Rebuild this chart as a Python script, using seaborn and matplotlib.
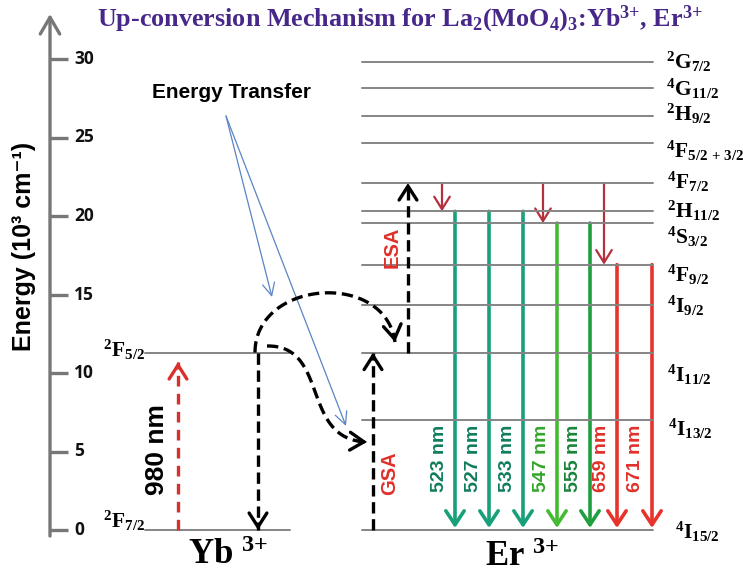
import numpy as np
import pandas as pd
import matplotlib
matplotlib.use("Agg")
import matplotlib.pyplot as plt
import seaborn as sns
from matplotlib.patches import FancyArrowPatch

# ---------------- data ----------------
title_text = r"Up-conversion Mechanism for La$_2$(MoO$_4$)$_3$:Yb$^{3{+}}$, Er$^{3{+}}$"
yticks = [0, 5, 10, 15, 20, 25, 30]

yb_levels = ["2F7/2", "2F5/2"]
yb_energy = [0.0, 11.3]
yb_tex = [r"$^{2}$F$_{7/2}$", r"$^{2}$F$_{5/2}$"]

er_levels = ["4I15/2", "4I13/2", "4I11/2", "4I9/2", "4F9/2", "4S3/2",
             "2H11/2", "4F7/2", "4F5/2+3/2", "2H9/2", "4G11/2", "2G7/2"]
er_energy = [0.0, 7.0, 11.3, 14.3, 16.9, 19.55, 20.3, 22.1, 24.65, 26.4, 28.15, 29.8]
er_tex = [r"$^{4}$I$_{15/2}$", r"$^{4}$I$_{13/2}$", r"$^{4}$I$_{11/2}$", r"$^{4}$I$_{9/2}$",
          r"$^{4}$F$_{9/2}$", r"$^{4}$S$_{3/2}$", r"$^{2}$H$_{11/2}$", r"$^{4}$F$_{7/2}$",
          r"$^{4}$F$_{5/2\,+\,3/2}$", r"$^{2}$H$_{9/2}$", r"$^{4}$G$_{11/2}$", r"$^{2}$G$_{7/2}$"]

emission_nm = [523, 527, 533, 547, 555, 659, 671]
emission_from = ["2H11/2", "2H11/2", "2H11/2", "4S3/2", "4S3/2", "4F9/2", "4F9/2"]
nonrad_from = "4F7/2"
nonrad_to = ["2H11/2", "4S3/2", "4F9/2"]
pump_nm = 980
pump_energy = 10.7

# ---------------- layout / style ----------------
PX = 15.7          # pixels per 10^3 cm^-1
Y0 = 530           # pixel row of zero energy
def E(py):         # convert a pixel row (layout) to energy units
    return (Y0 - py) / PX

emission_x = [455, 489, 523, 557, 590, 617, 652]
emission_col = ["#17a07a", "#17a07a", "#17a07a", "#45bb34", "#1f9f3f", "#e8332c", "#e8332c"]
label_col = ["#0f7d5d", "#0f7d5d", "#0f7d5d", "#33a52a", "#17853a", "#e0302a", "#e0302a"]
nonrad_x = [442, 543, 604]
er_label_dy = [2, 9, 22, 0, 10, 14, 0, -1, 8, -2, 1, 0]   # label offset from level (px)
er_label_x = [675, 668, 667, 667, 667, 667, 667, 667, 666, 666, 666, 666]

sns.set_theme(style="white")
plt.rcParams["mathtext.fontset"] = "custom"
plt.rcParams["mathtext.rm"] = "Liberation Serif:bold"
plt.rcParams["mathtext.it"] = "Liberation Serif:italic:bold"
plt.rcParams["mathtext.bf"] = "Liberation Serif:bold"
plt.rcParams["font.family"] = ["Liberation Sans", "DejaVu Sans"]
plt.rcParams["text.color"] = "black"

fig = plt.figure(figsize=(7.43, 5.77), dpi=100)
ax = fig.add_axes([0, 0, 1, 1])
ax.set_xlim(0, 743)
ax.set_ylim(E(577), E(0))
ax.axis("off")

# ---------------- energy levels (seaborn) ----------------
rows = []
for name, en in zip(yb_levels, yb_energy):
    rows += [("Yb" + name, 145, en), ("Yb" + name, 290, en)]
for name, en in zip(er_levels, er_energy):
    rows += [("Er" + name, 362, en), ("Er" + name, 653, en)]
lev = pd.DataFrame(rows, columns=["level", "x", "energy"])
sns.lineplot(data=lev, x="x", y="energy", units="level", estimator=None, sort=False,
             color="#858585", lw=1.4, ax=ax, legend=False)
ax.axis("off")

# ---------------- y axis ----------------
axc = "#777777"
ax.add_patch(FancyArrowPatch((50, E(536)), (50, E(14)), arrowstyle="->,head_length=0.6,head_width=0.35",
                             mutation_scale=20, color=axc, lw=2.4, shrinkA=0, shrinkB=0))
for t in yticks:
    ax.plot([50, 68], [t, t], color=axc, lw=2.4, solid_capstyle="butt")
    ax.text(74, t, str(t), ha="left", va="center", fontsize=12.5, fontweight="bold",
            family=["Open Sans", "DejaVu Sans"], color="#111111")
ax.text(24, E(246), "Energy (10³ cm⁻¹)", rotation=90, ha="center", va="center",
        fontsize=18, fontweight="bold", family=["Liberation Sans", "DejaVu Sans"])

# ---------------- title ----------------
ax.text(400, E(19), title_text, ha="center", va="center", fontsize=18.8, fontweight="bold",
        family="Liberation Serif", color="#47288a")

# ---------------- helpers ----------------
def head(x0, e0, x1, e1, color, lw, hl=0.5, hw=0.32, ms=20, back=6):
    dx = x1 - x0
    dy = (e1 - e0) * PX
    n = np.hypot(dx, dy)
    xb = x1 - dx / n * back
    eb = e1 - dy / n * back / PX
    ax.add_patch(FancyArrowPatch((xb, eb), (x1, e1),
                                 arrowstyle=f"->,head_length={hl},head_width={hw}",
                                 mutation_scale=ms, color=color, lw=lw, shrinkA=0, shrinkB=0,
                                 joinstyle="miter"))

def dashed_arrow(xs, es, color="black", lw=2.4, dashes=(3.4, 1.7)):
    ax.plot(xs, es, color=color, lw=lw, dashes=dashes, dash_capstyle="butt")
    head(xs[-2], es[-2], xs[-1], es[-1], color, lw)

def bezier(p0, p1, p2, p3, n=80):
    t = np.linspace(0, 1, n)[:, None]
    P = (1 - t) ** 3 * np.array(p0) + 3 * (1 - t) ** 2 * t * np.array(p1) \
        + 3 * (1 - t) * t ** 2 * np.array(p2) + t ** 3 * np.array(p3)
    return P[:, 0], E(P[:, 1])

lvl = dict(zip(er_levels, er_energy))
ybl = dict(zip(yb_levels, yb_energy))

# ---------------- Yb side ----------------
dashed_arrow([178, 178], [ybl["2F7/2"], pump_energy], color="#d8302c", lw=2.4, dashes=(3.2, 2.2))
ax.text(157, E(450), f"{pump_nm} nm", rotation=90, ha="center", va="center",
        fontsize=19, fontweight="bold")
dashed_arrow([258, 258], [ybl["2F5/2"], ybl["2F7/2"]])
for tex, en, dy in zip(yb_tex, yb_energy, [-9, -3]):
    ax.text(145, en - dy / PX, tex, ha="right", va="center", fontsize=15.5,
            fontweight="bold", family="Liberation Serif")
ax.text(228, E(556), r"Yb $^{3{+}}$", ha="center", va="center", fontsize=25,
        fontweight="bold", family="Liberation Serif")

# energy transfer curves
bx, be = bezier((255, Y0 - PX * ybl["2F5/2"]), (255, 280), (385, 270), (395, 342))
dashed_arrow(list(bx), list(be))
bx, be = bezier((267, 346), (330, 345), (300, 440), (367, 442))
dashed_arrow(list(bx), list(be))

ax.text(232, E(93), "Energy Transfer", ha="center", va="center", fontsize=15, fontweight="bold",
        color="black")
for (tx, ty) in [(272, 297), (346, 426)]:
    ax.add_patch(FancyArrowPatch((226, E(116)), (tx, E(ty)),
                                 arrowstyle="->,head_length=0.45,head_width=0.22",
                                 mutation_scale=20, color="#5b84c4", lw=0.9, shrinkA=0, shrinkB=0))

# ---------------- Er side ----------------
dashed_arrow([373, 373], [lvl["4I15/2"], lvl["4I11/2"]])
dashed_arrow([408, 408], [lvl["4I11/2"], lvl["4F7/2"]])
ax.text(392, E(247), "ESA", rotation=90, ha="center", va="center", fontsize=14.5,
        fontweight="bold", color="#e0302a")
ax.text(390, E(473), "GSA", rotation=90, ha="center", va="center", fontsize=14.5,
        fontweight="bold", color="#e0302a")

for x, to in zip(nonrad_x, nonrad_to):
    ax.add_patch(FancyArrowPatch((x, lvl[nonrad_from]), (x, lvl[to]),
                                 arrowstyle="->,head_length=0.45,head_width=0.28",
                                 mutation_scale=20, color="#b3303c", lw=1.6, shrinkA=0, shrinkB=0))

for x, nm, src, c, lc in zip(emission_x, emission_nm, emission_from, emission_col, label_col):
    ax.add_patch(FancyArrowPatch((x, lvl[src]), (x, E(528)),
                                 arrowstyle="->,head_length=0.5,head_width=0.33",
                                 mutation_scale=20, color=c, lw=2.6, shrinkA=0, shrinkB=0))
    ax.text(x - 16, E(458), f"{nm} nm", rotation=90, ha="center", va="center",
            fontsize=14, fontweight="bold", color=lc)

for tex, en, dy, lx in zip(er_tex, er_energy, er_label_dy, er_label_x):
    ax.text(lx, en - dy / PX, tex, ha="left", va="center", fontsize=15.5,
            fontweight="bold", family="Liberation Serif")
ax.text(522, E(558), r"Er $^{3{+}}$", ha="center", va="center", fontsize=25,
        fontweight="bold", family="Liberation Serif")

fig.savefig("out.png", dpi=100)
